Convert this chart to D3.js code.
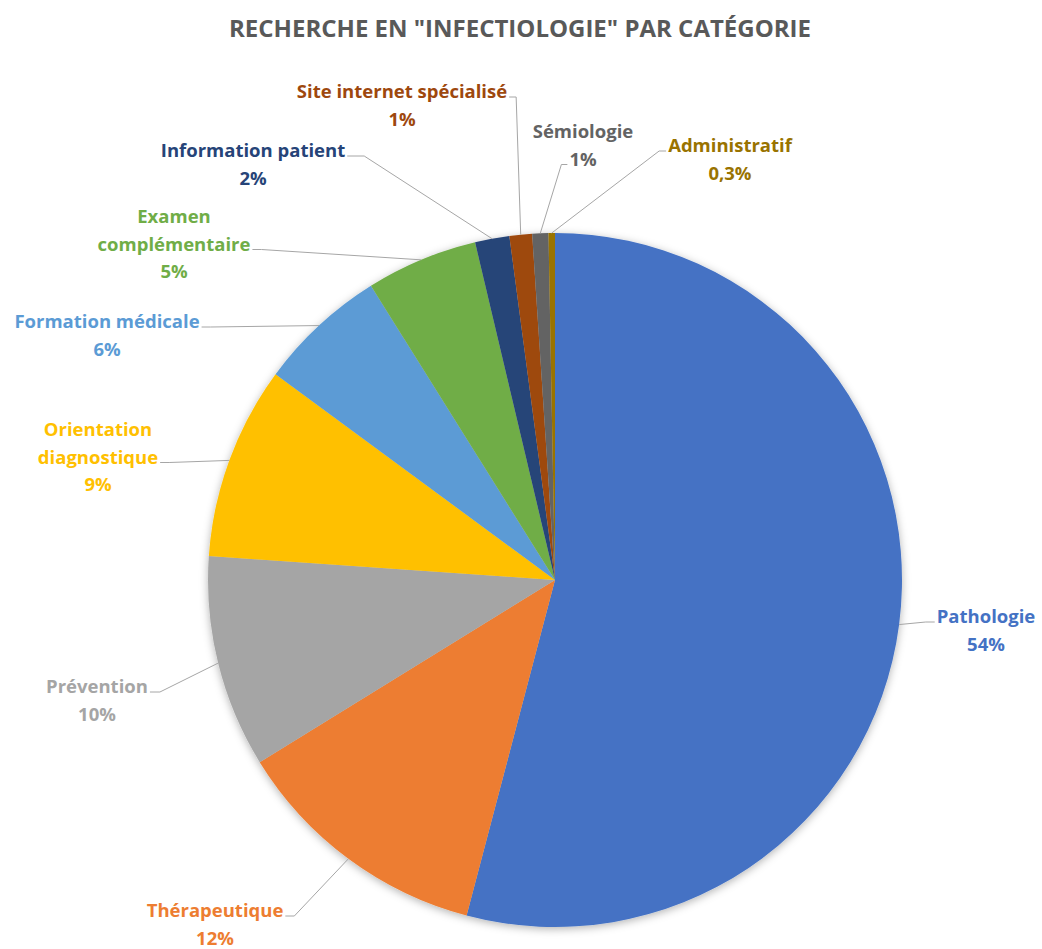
<!DOCTYPE html>
<html>
<head>
<meta charset="utf-8">
<script src="https://cdn.jsdelivr.net/npm/d3@7"></script>
<style>
  body { margin: 0; background: #fff; }
  text { font-family: "Open Sans", Lato, sans-serif; font-weight: bold; }
</style>
</head>
<body>
<div id="chart"></div>
<script>
// data
var categories = ["Pathologie", "Thérapeutique", "Prévention", "Orientation diagnostique",
  "Formation médicale", "Examen complémentaire", "Information patient",
  "Site internet spécialisé", "Sémiologie", "Administratif"];
var values = [54.1, 12.1, 9.9, 9.0, 6.0, 5.2, 1.6, 1.05, 0.75, 0.3];
var pctLabels = ["54%", "12%", "10%", "9%", "6%", "5%", "2%", "1%", "1%", "0,3%"];
var colors = ["#4472C4", "#ED7D31", "#A5A5A5", "#FFC000", "#5B9BD5", "#70AD47",
  "#264478", "#9E480E", "#636363", "#997300"];

// label layout: centre x, first baseline y, wrap name?, line the leader hits, side, elbow length
var labelLayout = [
  {x: 986, y: 623, wrap: false, hit: 0, side: "left",  elbow: 9},
  {x: 215, y: 917, wrap: false, hit: 0, side: "right", elbow: 9},
  {x: 97,  y: 693, wrap: false, hit: 0, side: "right", elbow: 10},
  {x: 98,  y: 436, wrap: true,  hit: 1, side: "right", elbow: 9},
  {x: 107, y: 328, wrap: false, hit: 0, side: "right", elbow: 9},
  {x: 174, y: 223, wrap: true,  hit: 1, side: "right", elbow: 9},
  {x: 253, y: 157, wrap: false, hit: 0, side: "right", elbow: 17},
  {x: 402, y: 98,  wrap: false, hit: 0, side: "right", elbow: 7},
  {x: 583, y: 138, wrap: false, hit: 1, side: "left",  elbow: 6},
  {x: 730, y: 152, wrap: false, hit: 0, side: "left",  elbow: 7}
];

var width = 1042, height = 949,
    cx = 555, cy = 580, radius = 347,
    lineH = 27.5;

var svg = d3.select("#chart").append("svg")
    .attr("width", width)
    .attr("height", height);

// soft shadow round the pie
var defs = svg.append("defs");
var f = defs.append("filter").attr("id", "shadow")
    .attr("x", "-10%").attr("y", "-10%").attr("width", "120%").attr("height", "120%");
f.append("feDropShadow").attr("dx", 0).attr("dy", 2)
    .attr("stdDeviation", 4).attr("flood-color", "#000").attr("flood-opacity", 0.3);

// title
svg.append("text")
    .attr("x", 520)
    .attr("y", 37)
    .attr("text-anchor", "middle")
    .style("font-size", "24px")
    .style("fill", "#595959")
    .text('RECHERCHE EN "INFECTIOLOGIE" PAR CATÉGORIE');

var pie = d3.pie().sort(null).value(function(d) { return d; });
var arcs = pie(values);
var arc = d3.arc().innerRadius(0).outerRadius(radius);

var g = svg.append("g")
    .attr("transform", "translate(" + cx + "," + cy + ")");

g.append("g")
    .attr("filter", "url(#shadow)")
  .selectAll("path")
    .data(arcs)
  .enter().append("path")
    .attr("d", arc)
    .style("fill", function(d, i) { return colors[i]; });

// labels + leader lines
var labels = svg.append("g");
arcs.forEach(function(d, i) {
  var lay = labelLayout[i];
  var lines = lay.wrap ? categories[i].split(" ") : [categories[i]];
  lines = lines.concat([pctLabels[i]]);

  var txt = labels.append("text")
      .attr("text-anchor", "middle")
      .style("font-size", "18.5px")
      .style("fill", colors[i]);
  var spans = lines.map(function(l, k) {
    return txt.append("tspan")
        .attr("x", lay.x)
        .attr("y", lay.y + k * lineH)
        .text(l);
  });

  var mid = (d.startAngle + d.endAngle) / 2;
  var p0 = [cx + radius * Math.sin(mid), cy - radius * Math.cos(mid)];
  var w = spans[lay.hit].node().getComputedTextLength();
  var ly = lay.y + lay.hit * lineH - 1;
  var ax, ex;
  if (lay.side == "right") { ax = lay.x + w / 2 + 2; ex = ax + lay.elbow; }
  else { ax = lay.x - w / 2 - 2; ex = ax - lay.elbow; }

  labels.append("path")
      .attr("d", "M" + p0[0] + "," + p0[1] + "L" + ex + "," + ly + "L" + ax + "," + ly)
      .style("fill", "none")
      .style("stroke", "#A6A6A6")
      .style("stroke-width", 1);
});
</script>
</body>
</html>
